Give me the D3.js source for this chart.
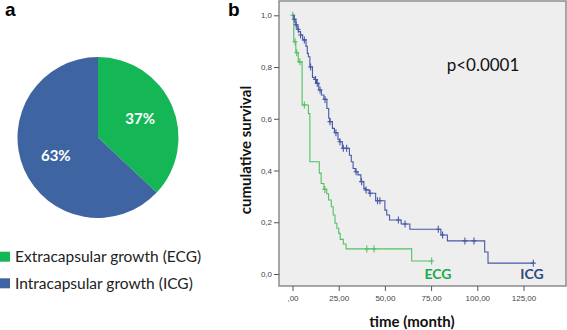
<!DOCTYPE html>
<html>
<head>
<meta charset="utf-8">
<script src="https://cdn.jsdelivr.net/npm/d3@7"></script>
<style>
  html, body { margin: 0; padding: 0; background: #fff; }
  svg { display: block; font-family: Lato, "Open Sans", sans-serif; }
  .axis text { font-family: "Liberation Sans", Arial, sans-serif; font-size: 8px; fill: #444; }
  .axis line { stroke: #555; }
</style>
</head>
<body>
<div id="vis"></div>
<script>
// panel a
const pieGroups = ["Extracapsular growth (ECG)", "Intracapsular growth (ICG)"];
const pieShares = [37, 63];
const pieColors = ["#14b655", "#3e65a2"];

// panel b, Kaplan-Meier steps
const ecgTimes = [0, 0.7, 1.8, 3.1, 5.2, 8.6, 9.4, 14.5, 15.5, 17.0, 18.5, 19.5, 21.0, 22.0, 23.0, 24.0, 25.0, 25.8, 27.5, 29.0, 64.5];
const ecgSurvival = [1.0, 0.898, 0.855, 0.82, 0.653, 0.62, 0.434, 0.39, 0.35, 0.327, 0.31, 0.286, 0.26, 0.228, 0.196, 0.177, 0.157, 0.134, 0.116, 0.097, 0.05];
const ecgCensored = [0.2, 1.4, 2.3, 4.0, 6.4, 17.5, 40.2, 44.1, 75.3];

const icgTimes = [0, 0.8, 1.8, 2.5, 3.3, 4.3, 5.5, 7.3, 8.0, 8.6, 9.4, 10.8, 11.8, 13.0, 14.2, 15.6, 17.0, 18.6, 19.6, 20.2, 21.6, 22.7, 24.6, 25.4, 27.0, 30.8, 31.8, 32.8, 34.0, 35.4, 37.0, 38.6, 39.5, 41.5, 45.0, 50.0, 51.0, 52.5, 58.8, 63.5, 80.3, 83.8, 104.0, 105.8];
const icgSurvival = [1.0, 0.985, 0.963, 0.946, 0.937, 0.924, 0.905, 0.88, 0.853, 0.84, 0.8, 0.76, 0.752, 0.737, 0.711, 0.692, 0.675, 0.64, 0.602, 0.589, 0.563, 0.546, 0.52, 0.511, 0.486, 0.459, 0.434, 0.408, 0.395, 0.383, 0.357, 0.331, 0.325, 0.312, 0.283, 0.247, 0.228, 0.209, 0.193, 0.173, 0.151, 0.128, 0.085, 0.042];
const icgCensored = [1.0, 2.0, 3.1, 4.4, 6.4, 9.8, 12.5, 13.4, 14.9, 17.6, 20.3, 23.5, 25.7, 27.5, 29.3, 34.4, 37.4, 39.8, 42.0, 46.0, 47.3, 57.3, 60.9, 78.9, 81.2, 93.3, 98.2, 130.3];

const xTicks = [0, 25, 50, 75, 100, 125];
const yTicks = [0, 0.2, 0.4, 0.6, 0.8, 1.0];

const width = 567;
const height = 330;

const svg = d3
  .select("#vis")
  .append("svg")
  .attr("width", width)
  .attr("height", height)
  .attr("viewBox", [0, 0, width, height]);

// ---- a: pie ----
const pieG = svg.append("g").attr("transform", "translate(98,137.5)");
const radius = 80.5;
const arcs = d3.pie().sort(null)(pieShares);
const arc = d3.arc().innerRadius(0).outerRadius(radius);
const labelArc = d3.arc().innerRadius(46).outerRadius(46);

pieG
  .selectAll("path")
  .data(arcs)
  .join("path")
  .attr("d", arc)
  .attr("fill", (d, i) => pieColors[i]);

pieG
  .selectAll("text")
  .data(arcs)
  .join("text")
  .attr("transform", (d) => `translate(${labelArc.centroid(d)})`)
  .attr("text-anchor", "middle")
  .attr("dy", "0.35em")
  .attr("fill", "#fff")
  .attr("font-size", 15)
  .attr("font-weight", 700)
  .text((d) => d.data + "%");

svg
  .append("text")
  .attr("x", 5)
  .attr("y", 16)
  .attr("font-size", 19)
  .attr("font-weight", 700)
  .attr("font-family", "Liberation Sans, Arial, sans-serif")
  .text("a");

const legend = svg
  .append("g")
  .selectAll("g")
  .data(pieGroups)
  .join("g")
  .attr("transform", (d, i) => `translate(0,${256.7 + i * 26.6})`);
legend
  .append("rect")
  .attr("x", 0)
  .attr("y", -5)
  .attr("width", 10)
  .attr("height", 10)
  .attr("fill", (d, i) => pieColors[i]);
legend
  .append("text")
  .attr("x", 15)
  .attr("dy", "0.35em")
  .attr("font-size", 15.5)
  .attr("fill", "#222")
  .text((d) => d);

// ---- b: survival ----
svg
  .append("text")
  .attr("x", 228)
  .attr("y", 16)
  .attr("font-size", 19)
  .attr("font-weight", 700)
  .attr("font-family", "Liberation Sans, Arial, sans-serif")
  .text("b");

const frame = { left: 279, right: 566, top: 1, bottom: 286 };

const x = d3.scaleLinear().domain([0, 125]).range([292.5, 523.5]);
const y = d3.scaleLinear().domain([0, 1]).range([274, 15.3]);

svg
  .append("rect")
  .attr("x", frame.left)
  .attr("y", frame.top)
  .attr("width", frame.right - frame.left)
  .attr("height", frame.bottom - frame.top)
  .attr("fill", "#eeeeee")
  .attr("stroke", "#8c8c8c")
  .attr("stroke-width", 1.5);

const comma = (f) => (v) => f(v).replace(".", ",");

svg
  .append("g")
  .attr("class", "axis")
  .attr("transform", `translate(${frame.left},0)`)
  .call(
    d3.axisLeft(y).tickValues(yTicks).tickSize(5).tickPadding(2).tickFormat(comma(d3.format(".1f")))
  )
  .call((g) => g.select(".domain").remove());

svg
  .append("g")
  .attr("class", "axis")
  .attr("transform", `translate(0,${frame.bottom})`)
  .call(
    d3
      .axisBottom(x)
      .tickValues(xTicks)
      .tickSize(5)
      .tickPadding(4)
      .tickFormat((v) => (v === 0 ? ",00" : comma(d3.format(".2f"))(v)))
  )
  .call((g) => g.select(".domain").remove());

function stepAt(times, surv, t) {
  const i = d3.bisectRight(times, t) - 1;
  return surv[Math.max(0, i)];
}

const line = d3
  .line()
  .x((d) => x(d[0]))
  .y((d) => y(d[1]))
  .curve(d3.curveStepAfter);

const groups = [
  { name: "ECG", times: ecgTimes, surv: ecgSurvival, cens: ecgCensored, stroke: "#55c063", label: "#1aa84f", lx: 438 },
  { name: "ICG", times: icgTimes, surv: icgSurvival, cens: icgCensored, stroke: "#4658a6", label: "#2c4a7e", lx: 532 },
];

groups.forEach((g) => {
  const end = d3.max(g.cens);
  const pts = g.times.map((t, i) => [t, g.surv[i]]);
  pts.push([end, g.surv[g.surv.length - 1]]);

  svg
    .append("path")
    .attr("d", line(pts))
    .attr("fill", "none")
    .attr("stroke", g.stroke)
    .attr("stroke-width", 1.1);

  const marks = svg
    .append("g")
    .attr("stroke", g.stroke)
    .attr("stroke-width", 1.1)
    .selectAll("path")
    .data(g.cens)
    .join("path")
    .attr("d", (t) => {
      const cx = x(t);
      const cy = y(stepAt(g.times, g.surv, t));
      return `M${cx},${cy - 3.5}V${cy + 3.5}M${cx - 2.5},${cy}H${cx + 2.5}`;
    });

  svg
    .append("text")
    .attr("x", g.lx)
    .attr("y", 274)
    .attr("dy", "0.35em")
    .attr("text-anchor", "middle")
    .attr("font-size", 14)
    .attr("font-weight", 700)
    .attr("fill", g.label)
    .text(g.name);
});

svg
  .append("text")
  .attr("x", 483)
  .attr("y", 65)
  .attr("dy", "0.35em")
  .attr("text-anchor", "middle")
  .attr("font-size", 17)
  .attr("fill", "#111")
  .text("p<0.0001");

svg
  .append("text")
  .attr("transform", "translate(246,150) rotate(-90)")
  .attr("text-anchor", "middle")
  .attr("dy", "0.35em")
  .attr("font-size", 15)
  .attr("font-weight", 700)
  .attr("fill", "#111")
  .text("cumulative survival");

svg
  .append("text")
  .attr("x", 412)
  .attr("y", 322)
  .attr("dy", "0.35em")
  .attr("text-anchor", "middle")
  .attr("font-size", 15)
  .attr("font-weight", 700)
  .attr("fill", "#111")
  .text("time (month)");
</script>
</body>
</html>
